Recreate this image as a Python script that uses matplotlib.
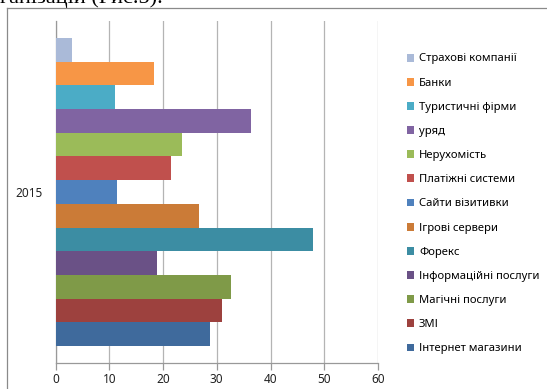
import matplotlib
matplotlib.use('Agg')
import matplotlib.pyplot as plt
from matplotlib.lines import Line2D

plt.rcParams['font.family'] = ['Noto Sans', 'DejaVu Sans']

# bottom to top, as drawn
labels = ['Інтернет магазини', 'ЗМІ', 'Магічні послуги', 'Інформаційні послуги',
          'Форекс', 'Ігрові сервери', 'Сайти візитивки', 'Платіжні системи',
          'Нерухомість', 'уряд', 'Туристичні фірми', 'Банки', 'Страхові компанії']
values = [28.8, 30.9, 32.6, 18.9, 47.9, 26.7, 11.4, 21.4, 23.5, 36.4, 11.0, 18.3, 3.0]
colors = ['#3f6a9c', '#9d413e', '#7f9a48', '#6a5186', '#3c8da3', '#cb7b37', '#4f81bd',
          '#c0504d', '#9bbb59', '#8064a2', '#4bacc6', '#f79646', '#aabad8']
year = '2015'
x_ticks = [0, 10, 20, 30, 40, 50, 60]

W, H = 547, 389
fig = plt.figure(figsize=(W / 100, H / 100), dpi=100)
ax = fig.add_axes([55.5 / W, (H - 363) / H, (378 - 55.5) / W, (363 - 21) / H])

n = len(values)
handles = []
for i, (lab, v, c) in enumerate(zip(labels, values, colors)):
    h = ax.barh(i, v, height=1.0, color=c, edgecolor='none', label=lab, zorder=3)
    handles.append(h)

pad = 0.72
ax.set_ylim(-0.5 - pad, n - 0.5 + pad)
ax.set_xlim(0, 60)
ax.set_xticks(x_ticks)
ax.set_xticklabels([str(t) for t in x_ticks], fontsize=8.5, color='#222222')
ax.set_yticks([(n - 1) / 2])
ax.set_yticklabels([year], fontsize=8.5, color='#222222')
ax.grid(axis='x', color='#b4b4b4', linewidth=0.9, zorder=0)
ax.tick_params(axis='x', length=5, color='#999999', width=0.9, pad=2)
ax.tick_params(axis='y', length=0, pad=9)
for s in ['top', 'right']:
    ax.spines[s].set_visible(False)
ax.spines['left'].set_color('#999999')
ax.spines['bottom'].set_color('#999999')
ax.spines['left'].set_linewidth(0.9)
ax.spines['bottom'].set_linewidth(0.9)

leg = fig.legend(handles[::-1], labels[::-1], loc='upper left',
                 bbox_to_anchor=(402 / W, 1 - 49 / H), frameon=False,
                 fontsize=8.1, handlelength=0.7, handleheight=0.7,
                 handletextpad=0.4, labelspacing=1.17, borderaxespad=0)

# chart border and cropped document text above it
fig.add_artist(Line2D([7 / W, 7 / W], [0, 1 - 7.5 / H], color='#8a8a8a', lw=0.9))
fig.add_artist(Line2D([7 / W, 1], [1 - 7.5 / H, 1 - 7.5 / H], color='#8a8a8a', lw=0.9))
fig.text(0, 1 - 2.5 / H, 'ганізацій (Рис.5).', fontsize=16, family='Liberation Serif',
         va='baseline', ha='left')

fig.savefig('out.png', dpi=100)
